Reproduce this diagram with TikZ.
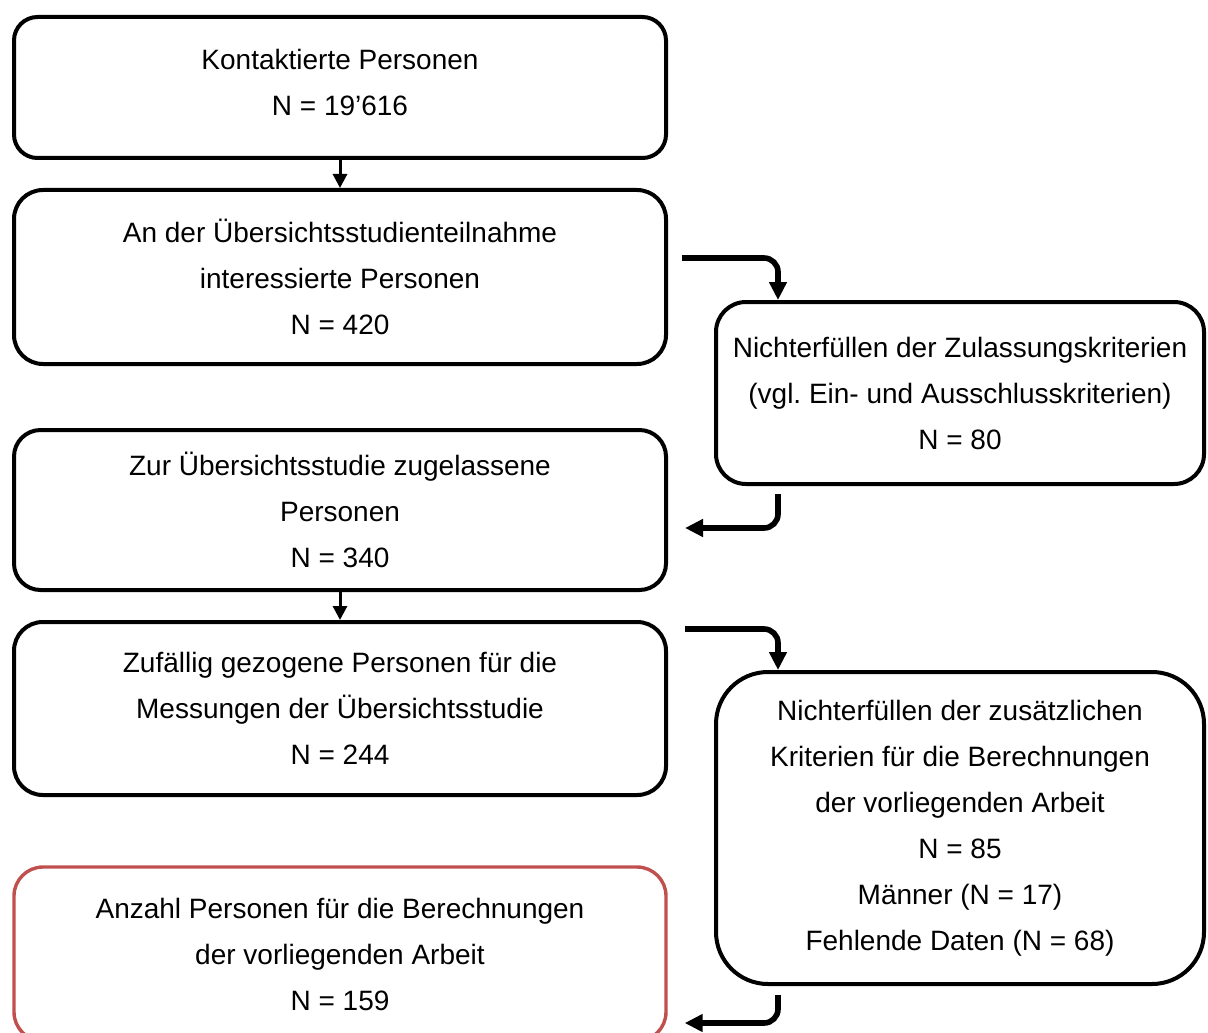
\documentclass[tikz,border=0pt]{standalone}
\usepackage{fontspec}
\setmainfont{Liberation Sans}
\usetikzlibrary{arrows.meta}
\definecolor{boxred}{HTML}{C0504D}

\begin{document}
\begin{tikzpicture}[
        box/.style = {draw, rectangle, line width = 2pt, align = center, font = \fontsize{14pt}{23pt}\selectfont},
        smallarrow/.style = {-{Triangle[length = 7pt, width = 7pt]}, line width = 1.5pt},
        bigarrow/.style = {-{Triangle[length = 9pt, width = 8.5pt]}, line width = 2.8pt, rounded corners = 7pt}
    ]
        \useasboundingbox (0pt, 0pt) rectangle (604pt, -516pt);
        \clip (0pt, 0pt) rectangle (604pt, -516pt);

        % Nodes
        \node [box, rounded corners = 11.75pt, text depth = 5pt, minimum width = 326pt, minimum height = 70.5pt] (a) at (170pt, -43.75pt) {Kontaktierte Personen\\N = 19’616};
        \node [box, rounded corners = 14.5pt, minimum width = 326pt, minimum height = 87pt] (b) at (170pt, -138.5pt) {An der Übersichtsstudienteilnahme\\interessierte Personen\\N = 420};
        \node [box, rounded corners = 15pt, minimum width = 244pt, minimum height = 91pt] (c) at (480pt, -196.5pt) {Nichterfüllen der Zulassungskriterien\\(vgl.\ Ein- und Ausschlusskriterien)\\N = 80};
        \node [box, rounded corners = 13.3pt, minimum width = 326pt, minimum height = 80pt] (d) at (170pt, -255pt) {Zur Übersichtsstudie zugelassene\\Personen\\N = 340};
        \node [box, rounded corners = 14.4pt, minimum width = 326pt, minimum height = 86.5pt] (e) at (170pt, -354.25pt) {Zufällig gezogene Personen für die\\Messungen der Übersichtsstudie\\N = 244};
        \node [box, rounded corners = 26pt, minimum width = 244pt, minimum height = 156pt] (f) at (480pt, -414pt) {Nichterfüllen der zusätzlichen\\Kriterien für die Berechnungen\\der vorliegenden Arbeit\\N = 85\\Männer (N = 17)\\Fehlende Daten (N = 68)};
        \node [box, rounded corners = 14.5pt, boxred, text = black, line width = 1.7pt, minimum width = 326pt, minimum height = 87pt] (g) at (170pt, -477pt) {Anzahl Personen für die Berechnungen\\der vorliegenden Arbeit\\N = 159};

        % Draw the links
        \draw [smallarrow] (a.south) -- (b.north);
        \draw [smallarrow] (d.south) -- (e.north);
        \draw [bigarrow] ([xshift = 7pt, yshift = 9.5pt] b.east) -| ([xshift = -91pt] c.north);
        \draw [bigarrow] ([xshift = -91pt, yshift = -4pt] c.south) |- ([xshift = 8.5pt, yshift = -9pt] d.east);
        \draw [bigarrow] ([xshift = 8.5pt, yshift = 39.75pt] e.east) -| ([xshift = -91pt] f.north);
        \draw [bigarrow] ([xshift = -91pt, yshift = -4.5pt] f.south) |- ([xshift = 8.5pt, yshift = -34.5pt] g.east);

    \end{tikzpicture}
\end{document}
